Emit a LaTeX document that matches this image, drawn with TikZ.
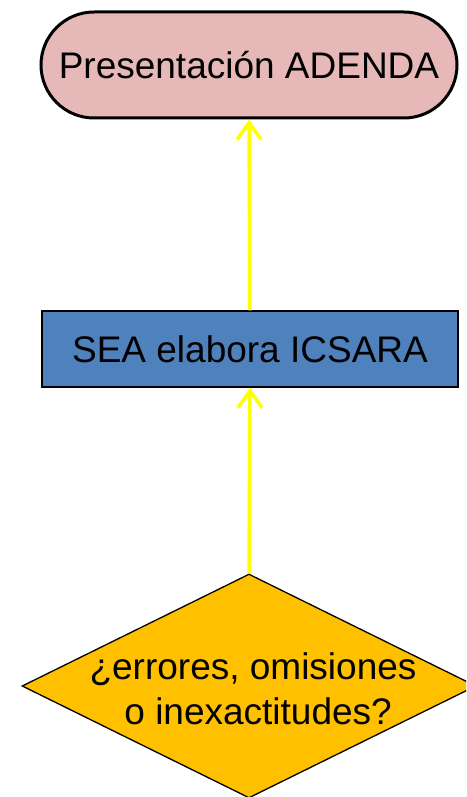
\documentclass[tikz,border=0pt]{standalone}
\usepackage{fontspec}
\setmainfont{Liberation Sans}
\usetikzlibrary{shapes.geometric,shapes.misc,arrows.meta}

\definecolor{termpink}{HTML}{E6B9B8}
\definecolor{procblue}{HTML}{4F81BD}
\definecolor{decgold}{HTML}{FFC000}
\definecolor{flowyellow}{HTML}{FFFF00}

\begin{document}
\begin{tikzpicture}[x=1pt,y=-1pt,font=\fontsize{37}{45}\selectfont]
    \tikzstyle{every edge}=[draw=flowyellow,line width=3.5pt,-{Straight Barb[length=17pt,width=24pt,line width=3.5pt]}]
    \tikzstyle{terminal}=[rounded rectangle,draw=black,line width=3pt,fill=termpink,minimum width=416pt,minimum height=106pt,inner sep=0pt]
    \tikzstyle{process}=[rectangle,draw=black,line width=1.3pt,fill=procblue,minimum width=416pt,minimum height=76pt,inner sep=0pt]
    \tikzstyle{decision}=[diamond,draw=black,line width=1.3pt,fill=decgold,minimum width=454pt,minimum height=224pt,inner sep=0pt]
    \tikzstyle{question}=[align=center,inner sep=0pt]

    % Fix the page to the reference size
    \useasboundingbox (0,0) rectangle (466,797);
    \clip (0,0) rectangle (466,797);

    % Draw the flow nodes
    \node[terminal] (adenda) at (249,65) {Presentación ADENDA};
    \node[process] (icsara) at (250,349) {SEA elabora ICSARA};
    \node[decision] (errores) at (249,686) {};
    \node[question] (pregunta) at (253,689) {¿errores, omisiones\\ \ o inexactitudes?};

    % Connect the nodes
    \path (errores.north) edge (icsara.south);
    \path (icsara.north) edge (adenda.south);
\end{tikzpicture}
\end{document}
